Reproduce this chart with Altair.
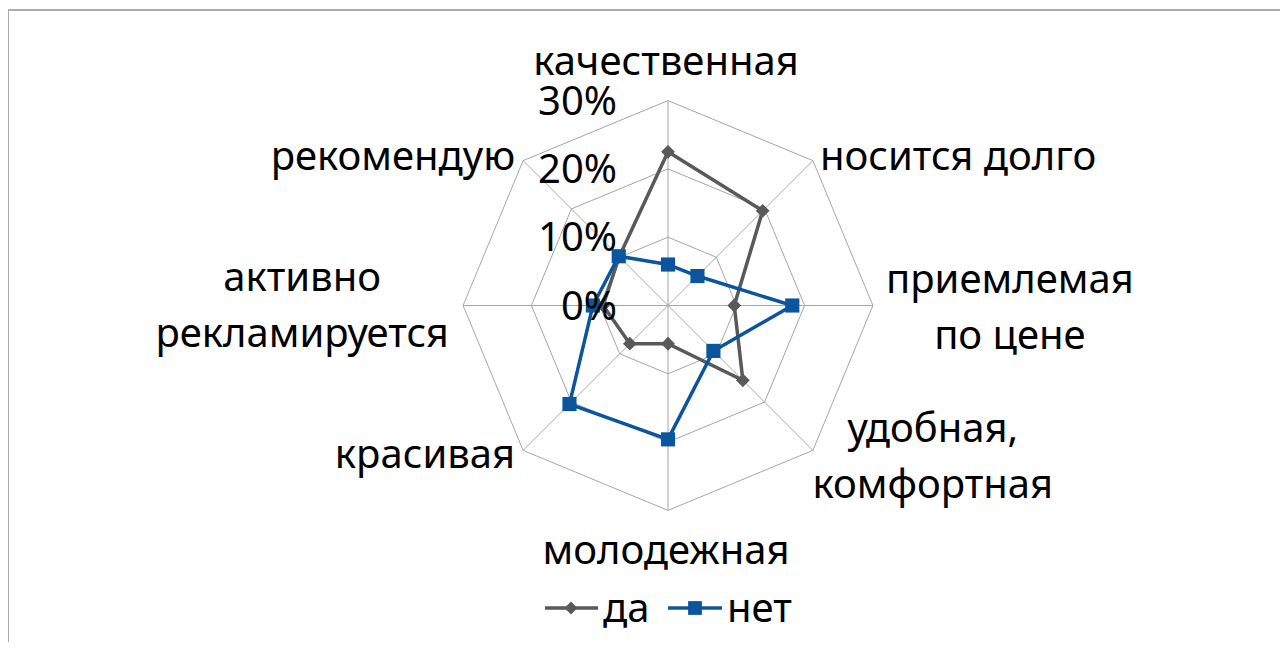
import altair as alt
import pandas as pd
import numpy as np

# ---------------- data ----------------
categories = ["качественная", "носится долго", "приемлемая по цене",
              "удобная, комфортная", "молодежная", "красивая",
              "активно рекламируется", "рекомендую"]
label_text = ["качественная", "носится долго", "приемлемая\nпо цене",
              "удобная,\nкомфортная", "молодежная", "красивая",
              "активно\nрекламируется", "рекомендую"]
series_names = ["да", "нет"]
da_values = [22.5, 19.6, 9.7, 15.5, 5.6, 7.9, 9.5, 10.1]
net_values = [6.0, 6.1, 18.2, 9.4, 19.6, 20.4, 11.0, 10.2]
levels = [0, 10, 20, 30]
level_labels = ["0%", "10%", "20%", "30%"]

# ---------------- layout / style ----------------
W, H = 1272, 634
CX, CY = 660, 297.5           # centre of radar inside plot area (px)
PX = 6.83                     # px per percentage point
FONT = "Noto Sans"
FS = 40
GREY = "#595959"
BLUE = "#0b559f"
GRID = "#a6a6a6"

xdom = [-CX / PX, (W - CX) / PX]
ydom = [-(H - CY) / PX, CY / PX]
xs = alt.Scale(domain=xdom, nice=False, zero=False)
ys = alt.Scale(domain=ydom, nice=False, zero=False)
n = len(categories)
ang = [i * 2 * np.pi / n for i in range(n)]

# series table (closed polygons)
rows = []
for s, vals in zip(series_names, [da_values, net_values]):
    for k in range(n + 1):
        i = k % n
        rows.append({"series": s, "cat": categories[i], "ord": k, "v": vals[i],
                     "x": vals[i] * np.sin(ang[i]), "y": vals[i] * np.cos(ang[i])})
sdf = pd.DataFrame(rows)

# grid rings
grows = []
for lv in levels[1:]:
    for k in range(n + 1):
        i = k % n
        grows.append({"lv": lv, "ord": k, "x": lv * np.sin(ang[i]), "y": lv * np.cos(ang[i])})
gdf = pd.DataFrame(grows)

# spokes
top = levels[-1]
spk = pd.DataFrame({"cat": categories,
                    "x0": [0.0] * n, "y0": [0.0] * n,
                    "x1": [top * np.sin(a) for a in ang],
                    "y1": [top * np.cos(a) for a in ang]})

X = lambda f: alt.X(f, type="quantitative", scale=xs, axis=None)
Y = lambda f: alt.Y(f, type="quantitative", scale=ys, axis=None)

rings = alt.Chart(gdf).mark_line(color=GRID, strokeWidth=1).encode(
    x=X("x"), y=Y("y"), detail="lv:N", order="ord:Q")
spokes = alt.Chart(spk).mark_rule(color=GRID, strokeWidth=1).encode(
    x=X("x0"), y=Y("y0"), x2="x1", y2="y1")

color_scale = alt.Scale(domain=series_names, range=[GREY, BLUE])
lines = alt.Chart(sdf).mark_line(strokeWidth=3.5).encode(
    x=X("x"), y=Y("y"), order="ord:Q",
    color=alt.Color("series:N", scale=color_scale, legend=None))
pts_da = alt.Chart(sdf[(sdf.series == "да") & (sdf.ord < n)]).mark_point(
    shape="diamond", filled=True, opacity=1, size=190, color=GREY).encode(x=X("x"), y=Y("y"))
pts_net = alt.Chart(sdf[(sdf.series == "нет") & (sdf.ord < n)]).mark_point(
    shape="square", filled=True, opacity=1, size=200, color=BLUE).encode(x=X("x"), y=Y("y"))

# value (%) labels along the vertical axis
tdf = pd.DataFrame({"lv": levels, "t": level_labels, "x": [0] * len(levels)})
ticks = alt.Chart(tdf).mark_text(font=FONT, fontSize=FS, align="right", baseline="middle",
                                 dx=-51, dy=2, color="black").encode(
    x=X("x"), y=Y("lv"), text="t:N")

# category labels
ldf = pd.DataFrame({"cat": categories, "t": label_text,
                    "x": [top * np.sin(a) for a in ang],
                    "y": [top * np.cos(a) for a in ang]})
lab_style = [
    dict(align="center", dx=-2, dy=-38),
    dict(align="left", dx=7, dy=-3),
    dict(align="center", dx=137, dy=-25),
    dict(align="center", dx=120, dy=-20),
    dict(align="center", dx=-2, dy=42),
    dict(align="right", dx=-8, dy=6),
    dict(align="center", dx=-161, dy=-27),
    dict(align="right", dx=-8, dy=-3),
]
label_layers = []
for i, c in enumerate(categories):
    st = lab_style[i]
    label_layers.append(
        alt.Chart(ldf[ldf.cat == c]).mark_text(
            font=FONT, fontSize=FS, baseline="middle", lineBreak="\n", lineHeight=56,
            color="black", **st).encode(x=X("x"), y=Y("y"), text="t:N"))

# legend
leg = []
leg_pos = [(537, 590, 563, 595), (660, 714, 687, 719)]
for (name, col, shp, sz), (xa, xb, xm, xt) in zip(
        [("да", GREY, "diamond", 170), ("нет", BLUE, "square", 190)], leg_pos):
    d = pd.DataFrame({"t": [name]})
    base = alt.Chart(d)
    leg.append(base.mark_rule(color=col, strokeWidth=3.5).encode(
        x=alt.value(xa), x2=alt.value(xb), y=alt.value(600)))
    leg.append(base.mark_point(shape=shp, filled=True, opacity=1, size=sz, color=col).encode(
        x=alt.value(xm), y=alt.value(600)))
    leg.append(base.mark_text(font=FONT, fontSize=FS, align="left", baseline="middle",
                              color="black").encode(x=alt.value(xt), y=alt.value(602), text="t:N"))

# frame (top and left edges)
fr = alt.Chart(pd.DataFrame({"a": [0]}))
frame = [
    fr.mark_rule(color="#ababab", strokeWidth=2).encode(x=alt.value(0), x2=alt.value(W), y=alt.value(2)),
    fr.mark_rule(color="#ababab", strokeWidth=2).encode(x=alt.value(0), y=alt.value(2), y2=alt.value(H)),
]

chart = alt.layer(rings, spokes, lines, pts_da, pts_net, ticks, *label_layers, *leg, *frame).properties(
    width=W, height=H, autosize="none", padding=0
).configure_view(stroke="transparent", strokeWidth=0)

chart.save("out.html", embed_options={"renderer": "svg", "actions": False})
